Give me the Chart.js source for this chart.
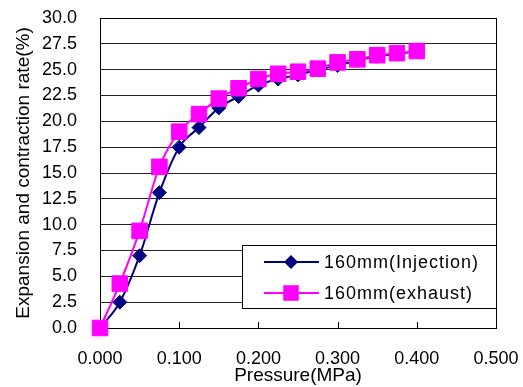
<!DOCTYPE html>
<html>
<head>
<meta charset="utf-8">
<script src="https://cdn.jsdelivr.net/npm/chart.js@4/dist/chart.umd.min.js"></script>
<style>
  html, body { margin: 0; padding: 0; background: #fff; }
  #wrap { width: 523px; height: 387px; }
</style>
</head>
<body>
<div id="wrap"><canvas id="c" width="523" height="387"></canvas></div>
<script>
const pressure = [0, 0.025, 0.05, 0.075, 0.1, 0.125, 0.15, 0.175, 0.2, 0.225, 0.25, 0.275, 0.3, 0.325, 0.35, 0.375, 0.4];
const injection = [0, 2.5, 7.0, 13.1, 17.5, 19.4, 21.3, 22.4, 23.5, 24.1, 24.5, 25.0, 25.4, 25.9, 26.3, 26.5, 26.8];
const exhaust = [0, 4.3, 9.4, 15.6, 19.0, 20.7, 22.2, 23.2, 24.1, 24.6, 24.8, 25.1, 25.7, 26.0, 26.4, 26.6, 26.8];
const xTicks = [0, 0.1, 0.2, 0.3, 0.4, 0.5];
const seriesNames = ['160mm(Injection)', '160mm(exhaust)'];

const FONT = '"Liberation Sans", Arial, sans-serif';
const pts = arr => arr.map((v, i) => ({ x: pressure[i], y: v }));

// plot frame, inner x ticks and the legend box inside the plot
const framePlugin = {
  id: 'frame',
  beforeDatasetsDraw(chart) {
    const { ctx, chartArea: a, scales } = chart;
    ctx.save();
    ctx.strokeStyle = '#000';
    ctx.lineWidth = 1;
    ctx.strokeRect(Math.round(a.left) + 0.5, Math.round(a.top) + 0.5, Math.round(a.right - a.left), Math.round(a.bottom - a.top));
    ctx.beginPath();
    xTicks.forEach(t => {
      const x = Math.round(scales.x.getPixelForValue(t)) + 0.5;
      ctx.moveTo(x, a.bottom);
      ctx.lineTo(x, a.bottom - 6);
    });
    ctx.stroke();
    ctx.restore();
  },
  afterDatasetsDraw(chart) {
    const { ctx, chartArea: a } = chart;
    ctx.save();
    ctx.strokeStyle = '#000';
    ctx.lineWidth = 1;
    const bx = 242, by = 245, bw = Math.round(a.right) - bx, bh = 63;
    ctx.fillStyle = '#fff';
    ctx.fillRect(bx, by, bw, bh);
    ctx.strokeRect(bx + 0.5, by + 0.5, bw, bh);
    [1, 0].forEach((di, row) => {
      const ds = chart.data.datasets[di];
      const y = by + 17 + row * 31;
      ctx.strokeStyle = ds.borderColor;
      ctx.lineWidth = 2;
      ctx.beginPath();
      ctx.moveTo(264, y);
      ctx.lineTo(319, y);
      ctx.stroke();
      ctx.fillStyle = ds.pointBackgroundColor;
      ctx.beginPath();
      if (ds.pointStyle === 'rectRot') {
        const r = ds.pointRadius;
        ctx.moveTo(291, y - r); ctx.lineTo(291 + r, y); ctx.lineTo(291, y + r); ctx.lineTo(291 - r, y); ctx.closePath();
      } else {
        const s = ds.pointRadius * Math.SQRT1_2;
        ctx.rect(291 - s, y - s, 2 * s, 2 * s);
      }
      ctx.fill();
      ctx.fillStyle = '#000';
      ctx.font = '18px ' + FONT;
      ctx.letterSpacing = '1px';
      ctx.textBaseline = 'middle';
      ctx.fillText(ds.label, 324, y + 1);
      ctx.letterSpacing = '0px';
    });
    ctx.restore();
  }
};

new Chart(document.getElementById('c'), {
  type: 'line',
  data: {
    datasets: [
      {
        label: seriesNames[1], data: pts(exhaust), clip: false,
        borderColor: '#ff00ff', backgroundColor: '#ff00ff', borderWidth: 2,
        pointStyle: 'rect', pointRadius: 11, pointBackgroundColor: '#ff00ff', pointBorderColor: '#ff00ff', pointBorderWidth: 1,
        cubicInterpolationMode: 'monotone', fill: false
      },
      {
        label: seriesNames[0], data: pts(injection), clip: false,
        borderColor: '#000080', backgroundColor: '#000080', borderWidth: 2,
        pointStyle: 'rectRot', pointRadius: 7, pointBackgroundColor: '#000080', pointBorderColor: '#000080', pointBorderWidth: 1,
        cubicInterpolationMode: 'monotone', fill: false
      }
    ]
  },
  options: {
    responsive: false,
    animation: false,
    events: [],
    layout: { padding: { top: 18, right: 27, left: 0, bottom: 0 } },
    plugins: { legend: { display: false }, tooltip: { enabled: false } },
    scales: {
      x: {
        type: 'linear', min: 0, max: 0.5,
        afterBuildTicks: s => { s.ticks = xTicks.map(v => ({ value: v })); },
        afterFit: s => { s.height = 59; s.paddingLeft = 0; s.paddingRight = 0; },
        grid: { display: false, drawTicks: false },
        border: { display: true, color: '#000', width: 1 },
        ticks: { color: '#000', font: { family: FONT, size: 18 }, padding: 20, maxRotation: 0, autoSkip: false, callback: v => v.toFixed(3) },
        title: { display: true, text: 'Pressure(MPa)', color: '#000', font: { family: FONT, size: 19 }, padding: { top: 0, bottom: 0 } }
      },
      y: {
        min: 0, max: 30,
        ticks: { stepSize: 2.5, color: '#000', font: { family: FONT, size: 18 }, padding: 23, autoSkip: false, callback: v => v.toFixed(1) },
        afterFit: s => { s.width = 100; s.paddingTop = 0; s.paddingBottom = 0; },
        grid: { color: '#222', lineWidth: 1, drawTicks: false },
        border: { display: true, color: '#000', width: 1 },
        title: { display: true, text: 'Expansion and contraction rate(%)', color: '#000', font: { family: FONT, size: 19 }, padding: { top: 12, bottom: 0 } }
      }
    }
  },
  plugins: [framePlugin]
});
</script>
</body>
</html>
